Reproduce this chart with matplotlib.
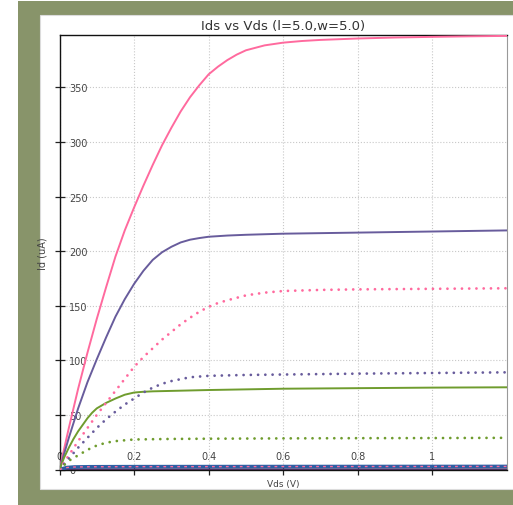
import numpy as np
import matplotlib
matplotlib.use("Agg")
import matplotlib.pyplot as plt
from matplotlib.patches import Rectangle

# Drain current curves, Id (uA) against Vds (V)
VDS_PINK = [0, 0.025, 0.05, 0.075, 0.1, 0.125, 0.15, 0.175, 0.2, 0.225, 0.25,
            0.275, 0.3, 0.325, 0.35, 0.375, 0.4, 0.425, 0.45, 0.475, 0.5, 0.55,
            0.6, 0.65, 0.7, 0.8, 0.9, 1.0, 1.1, 1.2]
ID_PINK = [0, 38, 74, 107, 138, 167, 195, 219, 240, 260, 279,
           297, 313, 328, 341, 352, 362, 369, 375, 380, 384, 388.5,
           391, 392.5, 393.5, 394.8, 395.7, 396.3, 396.8, 397.2]

VDS_PURPLE = [0, 0.025, 0.05, 0.075, 0.1, 0.125, 0.15, 0.175, 0.2, 0.225, 0.25,
              0.275, 0.3, 0.325, 0.35, 0.375, 0.4, 0.45, 0.5, 0.6, 0.8, 1.0, 1.2]
ID_PURPLE = [0, 29, 56, 80, 101, 121, 140, 156, 170, 182, 192,
             199, 204, 208, 210.5, 212, 213.2, 214.3, 215, 216, 217, 218, 219]

VDS_GREEN = [0, 0.0125, 0.025, 0.0375, 0.05, 0.0625, 0.075, 0.0875, 0.1, 0.125,
             0.15, 0.175, 0.2, 0.225, 0.25, 0.3, 0.4, 0.6, 0.8, 1.0, 1.2]
ID_GREEN = [0, 11, 20, 28, 35, 41, 47, 52, 56, 61,
            65, 68.5, 70.5, 71.2, 71.6, 72, 72.8, 74, 74.5, 75, 75.3]

VDS_PINK_DOT = [0, 0.025, 0.05, 0.075, 0.1, 0.125, 0.15, 0.175, 0.2, 0.225, 0.25,
                0.275, 0.3, 0.325, 0.35, 0.375, 0.4, 0.425, 0.45, 0.5, 0.55, 0.6,
                0.7, 0.8, 1.0, 1.2]
ID_PINK_DOT = [0, 13, 26, 38, 50, 61, 72, 83, 94, 103, 111,
               119, 126, 133, 139, 144.5, 149, 152.5, 155, 159.5, 162, 163.5,
               164.5, 165, 165.5, 166]

VDS_PURPLE_DOT = [0, 0.025, 0.05, 0.075, 0.1, 0.125, 0.15, 0.175, 0.2, 0.225,
                  0.25, 0.275, 0.3, 0.35, 0.4, 0.5, 0.6, 0.8, 1.0, 1.2]
ID_PURPLE_DOT = [0, 10, 20, 29, 38, 46, 53, 59.5, 65, 70.5,
                 75, 78.5, 81, 84.5, 85.8, 86.6, 87, 87.8, 88.4, 89]

VDS_GREEN_DOT = [0, 0.025, 0.05, 0.075, 0.1, 0.125, 0.15, 0.2, 0.3, 0.4, 0.6,
                 0.8, 1.0, 1.2]
ID_GREEN_DOT = [0, 8, 13, 18, 22, 24.5, 26, 27.5, 28, 28.2, 28.5,
                28.7, 28.8, 29]

# sub-threshold curves, hugging the axis
VDS_SUB = [0, 0.02, 0.04, 0.08, 0.2, 0.6, 1.2]
ID_BLUE = [0, 1.8, 2.3, 2.5, 2.6, 2.7, 2.8]
ID_DARK = [0, 0.2, 0.3, 0.3, 0.3, 0.3, 0.3]

PINK = "#ff6a9e"
PURPLE = "#685c9c"
GREEN = "#6f9c2e"
BLUE = "#2e5fa3"
OLIVE = "#88946a"
DOTS = (0, (0.01, 2.6))

fig = plt.figure(figsize=(5.13, 5.06), dpi=100)
fig.patch.set_facecolor("white")

# olive page frame around the plot
W, H = 513.0, 506.0
fig.patches.append(Rectangle((18 / W, 0), 1, 1 - 2 / H, transform=fig.transFigure,
                             facecolor=OLIVE, edgecolor="none", zorder=-2))
fig.patches.append(Rectangle((40 / W, 1 - 490 / H), 1, (490 - 16) / H,
                             transform=fig.transFigure, facecolor="white",
                             edgecolor="#dcdcdc", lw=0.8, zorder=-1))

ax = fig.add_axes([59.5 / W, 1 - 470.5 / H, (507 - 59.5) / W, (470.5 - 36) / H])
ax.set_facecolor("white")

ax.plot(VDS_SUB, ID_DARK, color="#4a2f5e", lw=1.2, zorder=3)
ax.plot(VDS_SUB, ID_BLUE, color=BLUE, lw=2.6, zorder=3)
ax.plot(VDS_SUB, ID_BLUE, color=PINK, lw=1.0, ls=(0, (2, 3)), zorder=4)

ax.plot(VDS_PINK, ID_PINK, color=PINK, lw=1.4, zorder=3)
ax.plot(VDS_PURPLE, ID_PURPLE, color=PURPLE, lw=1.4, zorder=3)
ax.plot(VDS_GREEN, ID_GREEN, color=GREEN, lw=1.4, zorder=3)
for xs, ys, c in [(VDS_PINK_DOT, ID_PINK_DOT, PINK),
                  (VDS_PURPLE_DOT, ID_PURPLE_DOT, PURPLE),
                  (VDS_GREEN_DOT, ID_GREEN_DOT, GREEN)]:
    ax.plot(xs, ys, color=c, lw=2.0, ls=DOTS, dash_capstyle="round", zorder=3)

ax.set_xlim(0, 1.2)
ax.set_ylim(0, 398)
ax.set_xticks([0, 0.2, 0.4, 0.6, 0.8, 1.0])
ax.set_xticklabels(["0", "0.2", "0.4", "0.6", "0.8", "1"])
ax.set_yticks([0, 50, 100, 150, 200, 250, 300, 350])

ax.grid(True, color="#c8c8c8", ls=":", lw=0.8)
ax.set_axisbelow(True)

# ticks straddle the spines, labels sit inside the plot area
ax.tick_params(axis="both", direction="inout", length=7, width=0.9,
               labelsize=7, labelcolor="#444444", color="#222222")
ax.tick_params(axis="x", pad=-16.5)
ax.tick_params(axis="y", pad=-10.3)
plt.setp(ax.get_yticklabels(), ha="left")

for side in ("left", "top", "bottom"):
    ax.spines[side].set_color("#111111")
    ax.spines[side].set_linewidth(1.0)
ax.spines["right"].set_color("#999999")

ax.set_title("Ids vs Vds (l=5.0,w=5.0)", fontsize=9.5, color="#333333", pad=4)
ax.set_xlabel("Vds (V)", fontsize=6.5, color="#444444", labelpad=3)
ax.set_ylabel("Id (uA)", fontsize=7, color="#444444", labelpad=5)

fig.savefig("out.png", dpi=100)
